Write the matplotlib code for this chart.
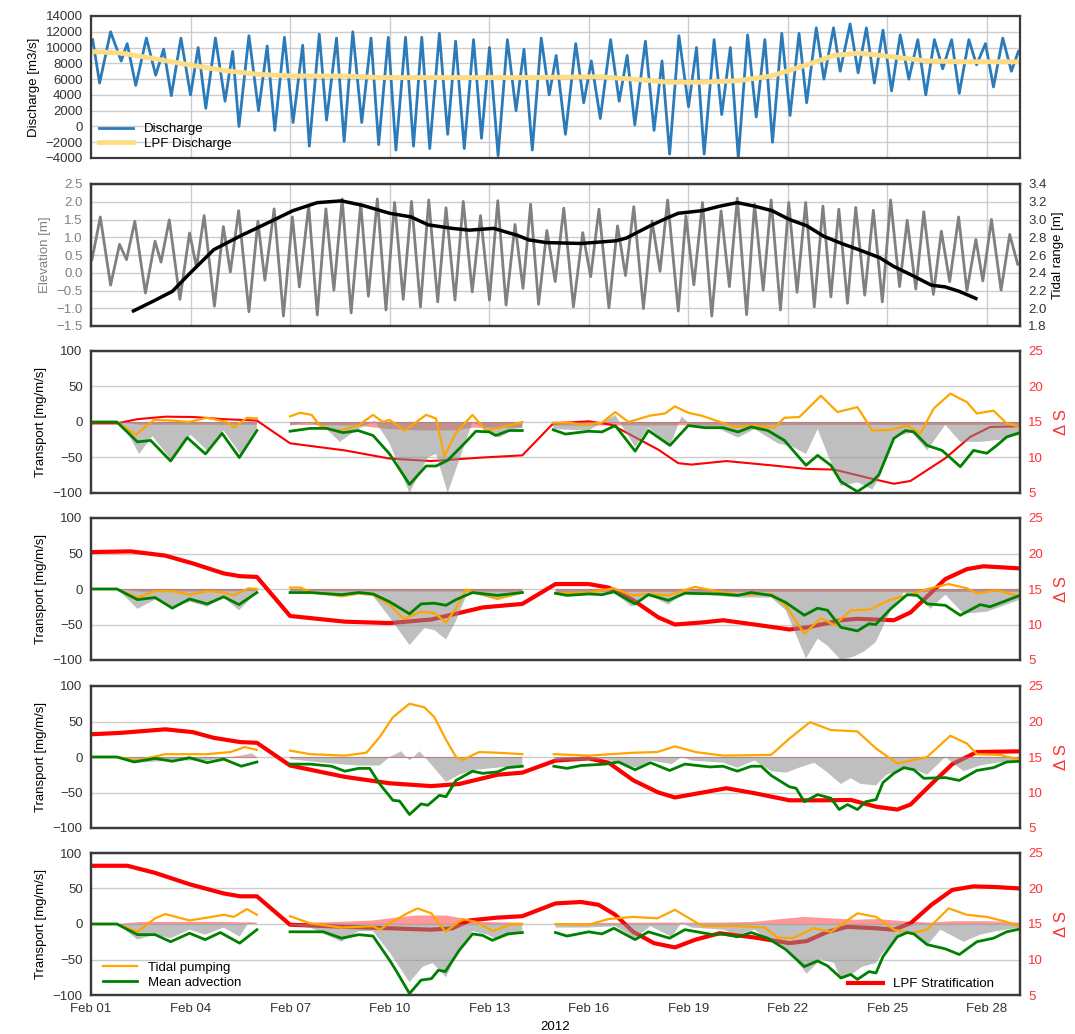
import datetime
import numpy as np
import matplotlib
matplotlib.use("Agg")
from matplotlib import pyplot as plt
import matplotlib.dates as mdates

plt.rcParams['font.family'] = ['Liberation Sans', 'DejaVu Sans']

nan = np.nan

# ---- top panel: discharge (days after 2012-02-01 00:00) ----
q_days = [0.05, 0.26, 0.59, 0.91, 1.09, 1.35, 1.67, 1.95, 2.19, 2.42, 2.71, 3.00, 3.23, 3.46, 3.75, 4.04, 4.27, 4.46,
          4.76, 5.05, 5.31, 5.54, 5.83, 6.09, 6.38, 6.58, 6.88, 7.10, 7.40, 7.63, 7.89, 8.16, 8.44, 8.67, 8.96, 9.19,
          9.48, 9.72, 9.97, 10.21, 10.50, 10.75, 10.99, 11.25, 11.53, 11.77, 12.01, 12.27, 12.55, 12.81, 13.05, 13.30,
          13.57, 13.81, 14.02, 14.30, 14.61, 14.85, 15.08, 15.35, 15.66, 15.92, 16.16, 16.39, 16.71, 16.97, 17.21,
          17.44, 17.72, 18.01, 18.25, 18.48, 18.78, 19.01, 19.27, 19.51, 19.79, 20.05, 20.31, 20.54, 20.82, 21.07,
          21.34, 21.57, 21.86, 22.09, 22.38, 22.58, 22.88, 23.12, 23.37, 23.61, 23.87, 24.13, 24.39, 24.65, 24.92,
          25.16, 25.42, 25.67, 25.94, 26.17, 26.46, 26.69, 26.96, 27.20, 27.48, 27.74, 27.95]
q_vals = [11000, 5500, 12000, 8300, 10500, 5200, 11200, 6500, 9800, 3900, 11200, 4000, 10000, 2300, 11200, 3200, 9500, 0,
          11500, 2000, 10200, -500, 11300, 500, 10300, -2500, 11700, 800, 11200, -1900, 12000, 500, 11200, -2300, 11300,
          -3000, 11300, -2500, 11300, -2800, 11800, -1000, 10800, -2800, 11000, -1500, 10000, -3700, 11000, 2000, 9800,
          -3000, 11200, 4000, 9000, -1000, 10500, 3000, 8300, 1000, 11000, 3200, 9000, 200, 10800, -500, 8300, -3500,
          11500, 2500, 10000, -3500, 11000, 1500, 10000, -4000, 11600, 1200, 11000, -2000, 11800, 1400, 11800, 3000,
          12500, 6000, 12500, 7000, 13000, 6800, 12500, 5500, 12200, 4500, 11600, 6000, 11000, 4000, 11000, 7300,
          11000, 4200, 11000, 7800, 10500, 5000, 11200, 7000, 9500]
lpfq_days = [0, 0.9, 1.9, 2.97, 4.0, 5.05, 6.1, 7.65, 8.7, 9.74, 11.3, 13.2, 15.3, 16.34, 17.4, 18.4, 19.5, 20.5,
             21.57, 22.4, 23.15, 24.2, 25.2, 26.3, 28.0]
lpfq_vals = [9500, 9300, 8600, 7800, 7100, 6600, 6400, 6400, 6200, 6200, 6200, 6200, 6300, 6000, 5600, 5600, 5800,
             6400, 7800, 9000, 9300, 8800, 8300, 8200, 8200]

# ---- second panel: elevation and tidal range ----
elev_days = [0.03, 0.28, 0.59, 0.86, 1.07, 1.32, 1.64, 1.93, 2.11, 2.36, 2.68, 2.97, 3.18, 3.41, 3.72, 3.99, 4.20,
             4.45, 4.76, 5.03, 5.24, 5.52, 5.80, 6.07, 6.28, 6.56, 6.82, 7.08, 7.32, 7.57, 7.84, 8.13, 8.36, 8.63,
             8.89, 9.15, 9.41, 9.66, 9.93, 10.18, 10.45, 10.70, 10.97, 11.22, 11.49, 11.74, 12.01, 12.26, 12.51,
             12.78, 13.02, 13.25, 13.49, 13.74, 13.99, 14.25, 14.54, 14.82, 15.06, 15.31, 15.61, 15.87, 16.11, 16.36,
             16.65, 16.91, 17.15, 17.38, 17.70, 17.93, 18.17, 18.43, 18.71, 18.99, 19.24, 19.48, 19.76, 20.00, 20.26,
             20.50, 20.78, 21.03, 21.28, 21.54, 21.80, 22.06, 22.30, 22.54, 22.80, 23.05, 23.32, 23.58, 23.85, 24.10,
             24.37, 24.60, 24.86, 25.10, 25.39, 25.63, 25.88, 26.15, 26.40, 26.67, 26.88, 27.14, 27.43, 27.69, 27.93]
elev_vals = [0.37, 1.57, -0.35, 0.80, 0.37, 1.45, -0.57, 0.89, 0.30, 1.49, -0.75, 1.12, 0.16, 1.61, -0.94, 1.30, 0.02,
             1.75, -1.10, 1.45, -0.21, 1.80, -1.22, 1.57, -0.40, 1.89, -1.19, 1.80, -0.49, 2.08, -1.13, 1.94, -0.66,
             2.08, -1.05, 1.98, -0.75, 2.01, -0.96, 2.05, -0.82, 1.83, -0.77, 2.01, -0.54, 1.61, -0.77, 2.03, -0.91,
             1.36, -0.44, 1.93, -0.89, 1.19, -0.25, 1.82, -0.96, 1.13, -0.11, 1.79, -0.99, 1.32, -0.08, 1.86, -1.01,
             1.46, 0.04, 2.05, -1.08, 1.60, -0.34, 1.98, -1.22, 1.74, -0.39, 2.10, -1.18, 1.93, -0.49, 2.05, -1.05,
             1.98, -0.55, 1.98, -0.96, 1.88, -0.68, 1.79, -0.86, 1.84, -0.63, 1.76, -0.82, 2.05, -0.39, 1.48, -0.46,
             1.72, -0.61, 1.17, -0.25, 1.57, -0.51, 0.94, -0.23, 1.50, -0.49, 1.08, 0.24]
tr_days = [1.28, 1.93, 2.45, 2.97, 3.7, 4.53, 5.26, 6.09, 6.82, 7.55, 8.18, 9.0, 9.64, 10.16, 10.89, 11.4, 12.14,
           12.86, 13.2, 13.72, 14.77, 15.82, 16.13, 16.86, 17.38, 17.7, 18.43, 18.95, 19.48, 20.0, 20.52, 21.05,
           21.57, 22.09, 22.62, 23.14, 23.77, 24.2, 24.7, 25.33, 25.75, 26.17, 26.67]
tr_vals = [1.97, 2.09, 2.19, 2.39, 2.66, 2.82, 2.95, 3.10, 3.19, 3.21, 3.16, 3.07, 3.03, 2.94, 2.90, 2.88, 2.90, 2.82,
           2.77, 2.74, 2.73, 2.76, 2.79, 2.93, 3.02, 3.07, 3.10, 3.15, 3.19, 3.15, 3.10, 3.00, 2.93, 2.81, 2.73, 2.66,
           2.57, 2.47, 2.38, 2.26, 2.24, 2.19, 2.11]

# ---- transport panels (nan = gap in record) ----
# panel 3
p3_tp_d = [0, 0.78, 1.35, 1.9, 2.45, 2.95, 3.5, 4.1, 4.3, 4.7, 5.0, 5.5, 6.0, 6.3, 6.65, 6.9, 7.4, 8.05, 8.5, 8.8, 9.0,
           9.45, 10.1, 10.4, 10.65, 11.0, 11.5, 11.9, 12.3, 13.0, 13.5, 13.93, 14.45, 14.77, 15.4, 15.8, 16.2, 16.85,
           17.3, 17.6, 18.0, 18.4, 19.4, 20.0, 20.6, 20.9, 21.35, 22.0, 22.5, 23.1, 23.55, 24.1, 24.6, 25.0, 25.4,
           25.9, 26.4, 26.7, 27.2, 27.6, 28.0]
p3_tp_v = [0, 0, -18, 3, 2, 0, 6, 0, -8, 6, 5, nan, 8, 13, 10, -5, -13, -5, 10, 0, 3, -12, 10, 5, -48, -15, 10, -12,
           -8, 0, nan, -1, -1, -4, -1, 14, 0, 9, 12, 22, 13, 9, -7, -5, -8, 6, 7, 37, 14, 21, -12, -11, -5, -16, 19,
           40, 28, 12, 16, -2, -7]
p3_ma_d = [0, 0.78, 1.4, 1.8, 2.4, 2.9, 3.45, 3.95, 4.47, 5.0, 5.5, 6.0, 6.6, 7.1, 7.6, 8.05, 8.5, 9.0, 9.6, 10.1,
           10.4, 10.75, 11.3, 11.6, 12.0, 12.2, 12.6, 13.0, 13.5, 13.93, 14.3, 15.0, 15.4, 15.8, 16.4, 16.8, 17.45,
           18.0, 18.5, 19.05, 19.5, 19.9, 20.4, 20.9, 21.55, 21.9, 22.3, 22.6, 23.1, 23.55, 23.75, 24.2, 24.55, 24.8,
           25.2, 25.65, 26.2, 26.6, 27.0, 27.3, 27.6, 28.0]
p3_ma_v = [0, 0, -28, -26, -55, -22, -45, -16, -50, -12, nan, -13, -9, -9, -15, -12, -19, -45, -88, -62, -62, -54,
           -28, -13, -14, -19, -12, -12, nan, -11, -17, -13, -14, -5, -41, -12, -33, -5, -8, -8, -14, -7, -12, -26,
           -61, -47, -61, -84, -98, -84, -74, -23, -12, -14, -33, -40, -63, -40, -44, -33, -21, -15]
p3_tot_d = [0, 0.8, 1.1, 1.45, 1.85, 2.4, 3.0, 3.5, 4.0, 4.5, 5.0, 5.5, 6.0, 6.6, 7.1, 7.5, 8.05, 8.55, 9.0, 9.6,
            10.15, 10.4, 10.75, 11.2, 11.5, 11.9, 12.3, 12.75, 13.0, 13.5, 13.93, 15.0, 15.8, 16.4, 16.8, 17.45, 17.8,
            18.1, 18.85, 19.5, 20.0, 20.7, 21.15, 21.55, 21.9, 22.2, 22.6, 23.1, 23.55, 23.75, 24.2, 24.75, 25.2,
            25.75, 26.2, 26.8, 27.4, 28.0]
p3_tot_v = [0, 0, -15, -45, -20, -52, -18, -40, -12, -45, -8, nan, -5, 0, -10, -28, -10, 2, -30, -100, -50, -45, -100,
            -40, 0, -10, -22, -10, -8, nan, -10, -12, 10, -35, -8, -33, 8, -5, -8, -22, -10, -30, -35, -45, -10, -45,
            -90, -85, -95, -80, -20, -15, -40, -4, -28, -28, -25, -18]
p3_oth_d = [0, 0.8, 1.5, 5.0, 5.5, 6.0, 8.0, 9.0, 10.0, 11.0, 11.5, 13.0, 13.5, 13.93, 28.0]
p3_oth_v = [0, 0, -4, -4, nan, -4, -5, -10, -12, -12, -8, -8, nan, -5, -4]
p3_ds_d = [0, 0.78, 1.4, 2.25, 3.1, 4.0, 5.0, 6.0, 7.65, 9.0, 10.25, 11.8, 13.0, 13.93, 15.0, 15.7, 16.3, 17.1, 17.7,
           18.1, 19.15, 20.5, 21.55, 22.4, 23.45, 24.2, 24.7, 25.75, 26.5, 27.1, 28.0]
p3_ds_v = [14.8, 14.8, 15.4, 15.75, 15.7, 15.4, 15.2, 12.0, 11.0, 9.85, 9.5, 10.0, 10.3, 14.8, 15.1, 14.6, 13.1, 11.1,
           9.2, 9.0, 9.5, 8.9, 8.4, 8.3, 7.1, 6.3, 6.7, 9.9, 12.9, 14.3, 14.4]

# panel 4
p4_tp_d = [0, 0.78, 1.4, 1.93, 2.45, 3.0, 3.5, 4.0, 4.3, 4.75, 5.0, 5.5, 6.0, 6.3, 6.67, 7.55, 8.07, 8.5, 9.0, 9.43,
           9.95, 10.35, 10.7, 11.0, 11.3, 11.6, 12.25, 13.0, 13.5, 14.0, 15.0, 15.76, 16.3, 16.86, 17.4, 18.2, 18.95,
           19.5, 20.5, 20.94, 21.5, 22.0, 22.4, 22.9, 23.45, 24.1, 24.6, 25.2, 25.85, 26.4, 26.7, 27.3, 28.0]
p4_tp_v = [0, 0, -12, -3, -3, -8, -3, -5, -9, 1, 0, nan, 2, 2, -5, -10, -6, -8, -22, -42, -32, -34, -47, -27, -1, -5,
           -14, -5, nan, -6, -5, 1, -9, -7, -9, 3, -4, -8, -7, -23, -63, -41, -51, -30, -29, -15, -9, 0, 7, 1, -6, -2,
           -10]
p4_ma_d = [0, 0.78, 1.4, 1.93, 2.45, 2.97, 3.5, 4.0, 4.46, 5.0, 5.5, 6.0, 6.6, 7.55, 8.07, 8.5, 9.0, 9.6, 9.95, 10.35,
           10.7, 11.0, 11.5, 12.25, 13.0, 13.5, 14.0, 14.35, 15.0, 15.4, 15.76, 16.4, 16.8, 17.4, 17.9, 18.95, 19.5,
           19.9, 20.5, 20.94, 21.5, 21.9, 22.2, 22.6, 23.1, 23.45, 23.65, 24.1, 24.6, 24.9, 25.2, 25.75, 26.2, 26.8,
           27.1, 28.0]
p4_ma_v = [0, 0, -15, -12, -27, -14, -21, -11, -22, -5, nan, -5, -5, -8, -5, -7, -18, -35, -21, -20, -23, -15, -5,
           -9, -5, nan, -6, -9, -7, -8, -4, -21, -8, -16, -6, -7, -9, -5, -9, -19, -37, -27, -30, -54, -59, -49, -50,
           -28, -8, -9, -21, -23, -37, -22, -25, -9]
p4_tot_d = [0, 0.8, 1.4, 1.93, 2.45, 3.0, 3.5, 4.0, 4.46, 5.0, 5.5, 6.0, 6.6, 7.55, 8.07, 8.5, 9.0, 9.6, 10.05, 10.35,
            10.7, 11.0, 11.35, 11.6, 12.25, 13.0, 13.5, 14.0, 15.0, 15.76, 16.3, 16.8, 17.4, 17.9, 18.95, 19.5, 20.5,
            20.94, 21.55, 21.9, 22.2, 22.6, 23.0, 23.3, 23.65, 24.1, 24.5, 25.0, 25.3, 25.75, 26.3, 27.0, 28.0]
p4_tot_v = [0, 0, -28, -15, -25, -18, -25, -12, -30, -5, nan, -3, -3, -12, -8, -10, -40, -79, -55, -58, -71, -45, -5,
            -8, -15, -5, nan, -6, -6, -5, -25, -8, -22, -5, -10, -12, -12, -30, -98, -70, -80, -100, -95, -88, -75, -30,
            -5, -12, -28, -8, -35, -32, -15]
p4_oth_d = [0, 0.8, 1.5, 5.0, 5.5, 6.0, 13.0, 13.5, 14.0, 28.0]
p4_oth_v = [0, 0, -4, -3, nan, -3, -4, nan, -4, -4]
p4_ds_d = [0, 1.2, 2.24, 3.07, 4.0, 4.5, 5.0, 6.0, 7.65, 9.0, 10.25, 11.8, 13.0, 14.0, 15.0, 15.6, 16.35, 17.1, 17.6,
           18.45, 19.05, 20.0, 21.05, 21.6, 22.6, 23.1, 24.2, 24.7, 25.75, 26.4, 26.9, 28.0]
p4_ds_v = [20.2, 20.3, 19.7, 18.6, 17.2, 16.8, 16.7, 11.2, 10.4, 10.2, 10.7, 12.4, 12.9, 15.7, 15.7, 15.2, 13.4, 11.0,
           10.0, 10.3, 10.6, 10.0, 9.3, 9.6, 10.6, 10.8, 10.6, 11.7, 16.4, 17.8, 18.2, 17.9]

# panel 5
p5_tp_d = [0, 0.78, 1.4, 2.24, 3.5, 4.2, 4.64, 5.0, 5.5, 6.0, 6.6, 7.65, 8.3, 8.7, 9.1, 9.6, 10.05, 10.35, 10.68,
           11.0, 11.2, 11.7, 12.25, 13.0, 13.5, 13.95, 15.0, 16.34, 17.07, 17.6, 18.22, 19.05, 20.5, 21.05, 21.67,
           22.3, 23.1, 23.66, 24.3, 25.2, 25.9, 26.4, 26.7, 27.4, 28.0]
p5_tp_v = [0, 0, -5, 4, 4, 7, 14, 10, nan, 9, 4, 2, 6, 28, 56, 75, 70, 56, 26, 0, -4, 7, 6, 4, nan, 4, 2, 6, 7, 15, 7,
           2, 3, 26, 49, 38, 36, 12, -9, 0, 30, 19, 4, 3, -4]
p5_ma_d = [0, 0.78, 1.3, 1.93, 2.45, 2.97, 3.5, 4.0, 4.53, 5.0, 5.5, 6.0, 6.6, 7.25, 7.65, 8.07, 8.4, 8.7, 9.1, 9.3,
           9.6, 9.95, 10.15, 10.5, 10.7, 11.0, 11.5, 11.8, 12.25, 12.55, 13.0, 13.5, 13.95, 14.35, 14.77, 15.5, 15.9,
           16.4, 16.86, 17.44, 17.9, 18.65, 19.05, 19.48, 19.9, 20.2, 20.5, 21.05, 21.25, 21.5, 21.9, 22.3, 22.55,
           22.8, 23.1, 23.35, 23.66, 23.87, 24.2, 24.5, 24.8, 25.1, 25.75, 26.17, 26.7, 27.2, 27.6, 28.0]
p5_ma_v = [0, 0, -7, -2, -6, -1, -8, -3, -13, -7, nan, -10, -10, -13, -20, -16, -16, -38, -61, -62, -81, -66, -68,
           -54, -56, -33, -20, -23, -21, -15, -13, nan, -13, -16, -12, -10, -7, -18, -8, -19, -10, -14, -13, -20, -13,
           -13, -26, -42, -44, -63, -53, -58, -74, -67, -74, -63, -60, -36, -23, -15, -18, -30, -29, -33, -19, -15,
           -7, -6]
p5_tot_d = [0, 0.8, 1.4, 2.45, 3.5, 4.5, 4.85, 5.0, 5.5, 6.0, 7.0, 8.0, 8.7, 9.0, 9.35, 9.6, 9.9, 10.15, 10.7, 11.1,
            11.6, 12.25, 13.0, 13.5, 13.95, 14.77, 15.5, 16.45, 16.86, 17.5, 17.8, 18.1, 19.05, 19.48, 20.0, 20.5,
            20.95, 21.35, 21.8, 22.2, 22.6, 22.9, 23.2, 23.66, 23.97, 24.3, 24.7, 25.2, 25.75, 26.3, 26.8, 27.3, 28.0]
p5_tot_v = [0, 0, -8, -5, -5, 2, 5, 0, nan, -3, -8, -12, -12, 0, 8, -5, 8, -5, -35, -25, -18, -15, -12, nan, -5, -5,
            -3, -15, -5, -10, 0, -5, -8, -15, -5, -20, -22, -15, -8, -22, -38, -30, -38, -40, -25, -20, -15, -25, 0,
            -20, -12, -8, -5]
p5_oth_d = [0, 0.8, 1.5, 5.0, 5.5, 6.0, 13.0, 13.5, 14.0, 28.0]
p5_oth_v = [0, 0, -1.5, -1.5, nan, -1.5, -1.5, nan, -1.5, -1.5]
p5_ds_d = [0, 0.9, 2.24, 3.07, 3.7, 4.5, 5.0, 6.0, 7.65, 9.0, 10.25, 11.1, 12.25, 13.0, 14.0, 15.0, 15.6, 16.35, 17.1,
           17.6, 18.2, 19.15, 20.0, 21.05, 22.1, 22.9, 23.66, 24.3, 24.7, 25.33, 25.96, 26.7, 28.0]
p5_ds_v = [18.2, 18.4, 18.9, 18.5, 17.7, 17.1, 17.0, 13.8, 12.2, 11.3, 10.9, 11.2, 12.5, 12.8, 14.5, 14.8, 14.2, 11.7,
           10.0, 9.3, 9.8, 10.6, 9.9, 8.9, 8.9, 8.95, 8.0, 7.6, 8.3, 11.2, 14.0, 15.7, 15.8]

# panel 6
p6_tp_d = [0, 0.78, 1.4, 1.93, 2.24, 2.97, 3.5, 4.0, 4.3, 4.7, 5.0, 5.5, 6.0, 6.6, 7.55, 8.07, 8.5, 8.7, 9.0, 9.53,
           9.84, 10.26, 10.68, 11.2, 11.6, 12.1, 12.65, 13.0, 13.5, 14.0, 15.0, 15.6, 16.34, 17.07, 17.6, 18.43,
           19.48, 20.3, 20.7, 21.15, 21.78, 22.3, 23.1, 23.66, 24.2, 24.7, 25.2, 25.85, 26.4, 27.0, 27.6, 28.0]
p6_tp_v = [0, 0, -11, 8, 14, 5, 9, 13, 10, 21, 13, nan, 11, 1, -5, -4, -3, -8, 1, 15, 22, 15, -11, 7, 3, -10, -1, 0,
           nan, 0, -1, 7, 10, 8, 20, -3, -3, -5, -19, -20, -6, -11, 15, 10, -8, -13, -8, 22, 13, 10, 3, -4]
p6_ma_d = [0, 0.78, 1.4, 1.93, 2.4, 2.97, 3.44, 3.9, 4.48, 5.0, 5.5, 6.0, 7.0, 7.55, 8.07, 8.5, 9.0, 9.2, 9.6, 9.95,
           10.26, 10.47, 10.68, 11.1, 11.5, 11.8, 12.1, 12.55, 13.0, 13.5, 14.0, 14.35, 15.0, 15.4, 15.76, 16.4, 16.8,
           17.44, 17.9, 18.75, 19.05, 19.48, 19.9, 20.4, 20.94, 21.5, 21.9, 22.2, 22.6, 22.9, 23.1, 23.45, 23.66,
           23.87, 24.3, 24.6, 24.8, 25.2, 25.75, 26.17, 26.7, 27.2, 27.6, 28.0]
p6_ma_v = [0, 0, -15, -15, -25, -13, -22, -12, -27, -8, nan, -11, -11, -20, -15, -17, -51, -66, -98, -79, -77, -65,
           -67, -37, -14, -16, -23, -14, -12, nan, -12, -17, -11, -14, -6, -22, -11, -20, -8, -15, -14, -18, -12, -20,
           -36, -60, -52, -59, -76, -71, -78, -67, -69, -46, -18, -12, -14, -29, -35, -43, -25, -20, -11, -7]
p6_tot_d = [0, 0.8, 1.4, 1.93, 2.4, 2.97, 3.44, 4.0, 4.48, 4.75, 5.0, 5.5, 6.0, 6.6, 7.55, 8.07, 8.5, 9.0, 9.6, 10.0,
            10.3, 10.7, 11.1, 11.5, 11.95, 12.25, 13.0, 13.5, 14.0, 15.0, 15.8, 16.4, 16.86, 17.5, 17.8, 18.1, 19.05,
            19.48, 20.0, 20.5, 21.05, 21.57, 22.0, 22.4, 22.6, 22.8, 23.25, 23.66, 23.87, 24.3, 24.7, 25.2, 25.6, 26.3,
            26.8, 27.3, 28.0]
p6_tot_v = [0, 0, -22, -15, -20, -8, -15, -5, -18, 2, 0, nan, -2, -5, -25, -10, -10, -40, -82, -60, -55, -75, -35,
            -10, -15, -22, -10, nan, -5, -5, -3, -20, -3, -18, 2, -5, -8, -15, -8, -25, -40, -70, -50, -55, -78, -75,
            -60, -55, -40, -20, -12, -30, -8, -25, -15, -10, -5]
p6_oth_d = [0, 0.8, 1.5, 4.0, 5.0, 5.5, 6.0, 7.5, 8.5, 9.2, 9.8, 10.7, 11.2, 11.6, 13.0, 13.5, 14.0, 17.0, 19.0, 20.0,
            20.8, 21.5, 22.3, 23.0, 23.7, 24.5, 25.3, 26.0, 27.0, 28.0]
p6_oth_v = [0, 0, 3, 3, 2, nan, 1, 3, 5, 9, 12, 12, 8, 3, 2, nan, 1, 2, 2, 3, 7, 10, 8, 6, 7, 4, 2, 4, 4, 2]
p6_ds_d = [0, 1.1, 1.93, 2.97, 4.0, 4.5, 5.0, 6.0, 7.65, 9.0, 10.25, 10.9, 11.4, 12.25, 13.0, 14.0, 14.77, 15.3, 15.8,
           16.34, 16.97, 17.6, 18.22, 18.95, 20.0, 21.05, 21.57, 22.2, 22.8, 23.66, 24.2, 24.7, 25.33, 25.96, 26.6,
           27.3, 28.0]
p6_ds_v = [23.2, 23.2, 22.2, 20.6, 19.3, 18.9, 18.9, 14.9, 14.6, 14.4, 14.2, 14.4, 15.5, 15.9, 16.1, 17.9, 18.1, 17.7,
           16.3, 13.9, 12.3, 11.7, 12.8, 13.7, 13.1, 12.3, 12.6, 13.9, 14.6, 14.4, 14.2, 15.1, 17.7, 19.8, 20.3, 20.2,
           20.0]

base = mdates.date2num(datetime.datetime(2012, 2, 1))


def xs(days):
    return base + np.asarray(days, dtype=float)


def style(ax, grid=True):
    for s in ax.spines.values():
        s.set_color('#3a3a3a')
        s.set_linewidth(1.6)
    ax.tick_params(length=0, labelsize=9.5, colors='#333333', pad=6)
    if grid:
        ax.grid(True, color='#cccccc', lw=1)
    ax.set_axisbelow(True)
    ax.xaxis.set_major_locator(mdates.DayLocator(bymonthday=[1, 4, 7, 10, 13, 16, 19, 22, 25, 28]))
    ax.xaxis.set_major_formatter(mdates.DateFormatter('%b %d'))
    ax.set_xlim(xs([0])[0], xs([28])[0])


fig = plt.figure(figsize=(10.75, 10.34), dpi=100)
W, H = 1075.0, 1034.0
left, right = 91, 1020
tops = [16, 184, 351, 518, 686, 853]
ph = 142


def new_ax(top):
    return fig.add_axes([left / W, 1 - (top + ph) / H, (right - left) / W, ph / H])


# panel 1
ax = new_ax(tops[0])
style(ax)
ax.plot(xs(q_days), q_vals, color='#2b7bba', lw=2, label='Discharge')
ax.plot(xs(lpfq_days), lpfq_vals, color='#fddc84', lw=3.5, label='LPF Discharge')
ax.set_ylim(-4000, 14000)
ax.set_yticks(np.arange(-4000, 14001, 2000))
ax.set_ylabel('Discharge [m3/s]', fontsize=9.5)
ax.tick_params(labelbottom=False)
ax.legend(loc='lower left', frameon=False, fontsize=9.5, handlelength=2.6, borderaxespad=0.2, labelspacing=0.2)

# panel 2
ax = new_ax(tops[1])
style(ax)
ax.plot(xs(elev_days), elev_vals, color='#808080', lw=2)
ax.set_ylim(-1.5, 2.5)
ax.set_yticks(np.arange(-1.5, 2.51, 0.5))
ax.set_ylabel('Elevation [m]', fontsize=9.5, color='#808080')
ax.tick_params(axis='y', labelcolor='#808080')
ax.tick_params(labelbottom=False)
axr = ax.twinx()
style(axr, grid=False)
axr.plot(xs(tr_days), tr_vals, color='black', lw=2.5)
axr.set_ylim(1.8, 3.4)
axr.set_yticks(np.arange(1.8, 3.41, 0.2))
axr.set_ylabel('Tidal range [m]', fontsize=9.5)
axr.tick_params(labelbottom=False)

panels = [
    (p3_tp_d, p3_tp_v, p3_ma_d, p3_ma_v, p3_tot_d, p3_tot_v, p3_oth_d, p3_oth_v, p3_ds_d, p3_ds_v, 1.5),
    (p4_tp_d, p4_tp_v, p4_ma_d, p4_ma_v, p4_tot_d, p4_tot_v, p4_oth_d, p4_oth_v, p4_ds_d, p4_ds_v, 3),
    (p5_tp_d, p5_tp_v, p5_ma_d, p5_ma_v, p5_tot_d, p5_tot_v, p5_oth_d, p5_oth_v, p5_ds_d, p5_ds_v, 3),
    (p6_tp_d, p6_tp_v, p6_ma_d, p6_ma_v, p6_tot_d, p6_tot_v, p6_oth_d, p6_oth_v, p6_ds_d, p6_ds_v, 3),
]

for i, (tp_d, tp_v, ma_d, ma_v, tot_d, tot_v, oth_d, oth_v, ds_d, ds_v, ds_lw) in enumerate(panels):
    ax = new_ax(tops[i + 2])
    axr = ax.twinx()
    style(axr)
    style(ax, grid=False)
    # transport axis drawn on top of the stratification axis
    ax.set_zorder(axr.get_zorder() + 1)
    ax.patch.set_visible(False)
    axr.plot(xs(ds_d), ds_v, color='red', lw=ds_lw, label='LPF Stratification')
    axr.set_ylim(5, 25)
    axr.set_yticks([5, 10, 15, 20, 25])
    axr.tick_params(axis='y', labelcolor='#ff3030')
    axr.set_ylabel('Δ S', fontsize=12, color='#ff3030', labelpad=8)
    ax.fill_between(xs(oth_d), 0, oth_v, color='red', alpha=0.4, lw=0)
    ax.fill_between(xs(tot_d), 0, tot_v, color='0.55', alpha=0.55, lw=0)
    ax.plot(xs(tp_d), tp_v, color='orange', lw=1.6, label='Tidal pumping')
    ax.plot(xs(ma_d), ma_v, color='green', lw=2, label='Mean advection')
    ax.set_ylim(-100, 100)
    ax.set_yticks([-100, -50, 0, 50, 100])
    ax.set_ylabel('Transport [mg/m/s]', fontsize=9.5)
    axr.tick_params(labelbottom=False)
    if i < 3:
        ax.tick_params(labelbottom=False)
    else:
        ax.set_xlabel('2012', fontsize=9.5, labelpad=4)
        ax.legend(loc='lower left', bbox_to_anchor=(0.0, -0.04), frameon=False, fontsize=9.5,
                  handlelength=2.6, labelspacing=0.2)
        axr.legend(loc='lower right', bbox_to_anchor=(0.985, -0.05), frameon=False, fontsize=9.5,
                   handlelength=2.6)

fig.savefig('out.png', dpi=100)
